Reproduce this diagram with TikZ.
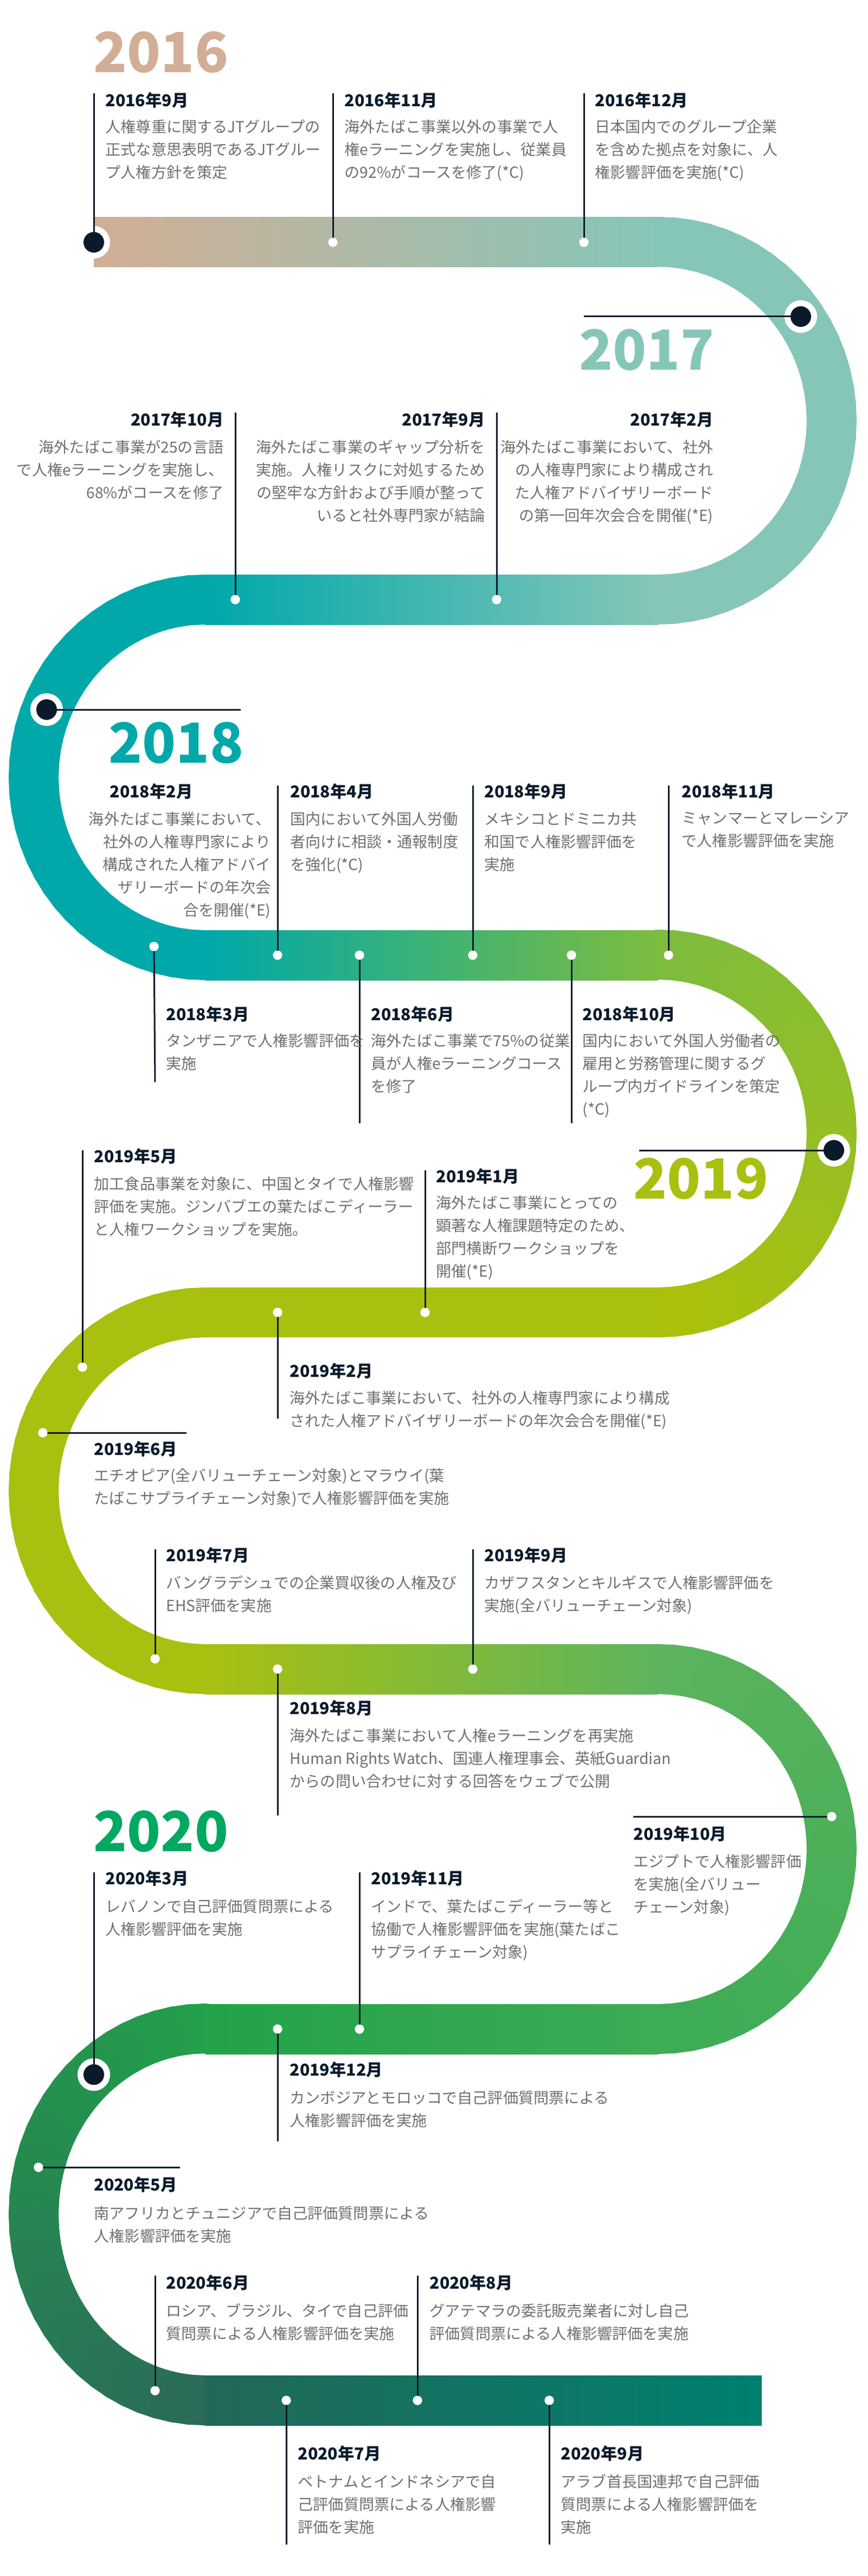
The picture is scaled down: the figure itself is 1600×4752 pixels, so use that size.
\documentclass[tikz,border=0pt]{standalone}
\usepackage{fontspec}
\setmainfont{Noto Sans CJK JP}
\definecolor{navy}{HTML}{0B1A2B}
\definecolor{bodygray}{HTML}{707070}
\definecolor{y16}{HTML}{D2AE96}
\definecolor{y17}{HTML}{86C6B8}
\definecolor{y18}{HTML}{00A8AA}
\definecolor{y19}{HTML}{A9C010}
\definecolor{y20}{HTML}{00A862}
\definecolor{g3a}{HTML}{7CBC40}
\definecolor{g3b}{HTML}{ACC10A}
\definecolor{g5a}{HTML}{5DB45E}
\definecolor{g5b}{HTML}{3DAC55}
\definecolor{g6a}{HTML}{22A24A}
\definecolor{g6b}{HTML}{2A6B58}
\definecolor{g7a}{HTML}{226858}
\definecolor{g7b}{HTML}{0B7868}
\definecolor{g7c}{HTML}{00806F}
\newcommand\turnarc[8]{%
  \foreach \i in {0,...,35}{%
    \pgfmathsetmacro\ta{#5+(#6-#5)*\i/36}%
    \pgfmathsetmacro\tb{#5+(#6-#5)*(\i+1)/36}%
    \pgfmathsetmacro\pc{100*(\i+0.5)/36}%
    \colorlet{segc}{#8!\pc!#7}%
    \draw[segc,line width=0.92cm,line cap=round] ({#1+#3*cos(\ta)},{#2-#4*sin(\ta)}) -- ({#1+#3*cos(\tb)},{#2-#4*sin(\tb)});
  }}
\newcommand\datefont{\fontsize{8.6}{10}\selectfont\bfseries}
\newcommand\bodyfont{\fontsize{8}{11.95}\selectfont}
\newcommand\yearfont{\fontsize{29}{30}\selectfont\bfseries}
\begin{document}
\begin{tikzpicture}[x=0.01cm,y=-0.01cm,
  datel/.style={font=\datefont,text=navy,inner sep=0,anchor=west},
  dater/.style={font=\datefont,text=navy,inner sep=0,anchor=east},
  bodyl/.style={font=\bodyfont,text=bodygray,inner sep=0,align=left,anchor=north west},
  bodyr/.style={font=\bodyfont,text=bodygray,inner sep=0,align=right,anchor=north east},
  year/.style={font=\yearfont,inner sep=0,anchor=south west},
  conn/.style={navy,line width=0.03cm},
  sdot/.style={circle,fill=white,minimum size=0.17cm,inner sep=0},
  bigring/.style={circle,fill=white,minimum size=0.6cm,inner sep=0},
  bigdot/.style={circle,fill=navy,minimum size=0.38cm,inner sep=0}]
\useasboundingbox (0,0) rectangle (1600,4752);
\fill[white] (0,0) rectangle (1600,4752);
% ---- track ----
\turnarc{1214}{776}{320}{330}{90}{-90}{y17}{y17}
\turnarc{378}{1434}{316}{328}{90}{270}{y18}{y18}
\turnarc{1214}{2091}{320}{330}{90}{-90}{g3a}{g3b}
\turnarc{378}{2750}{316}{329}{90}{270}{y19}{y19}
\turnarc{1214}{3411}{320}{332}{90}{-90}{g5a}{g5b}
\turnarc{378}{4085}{316}{343}{90}{270}{g6a}{g6b}
\shade[left color=y16,middle color=y16!55!y17,right color=y17] (173,401) rectangle (1214,493);
\shade[left color=y18,middle color=y18!90!y17,right color=y17] (378,1060) rectangle (1214,1152);
\shade[left color=y18,middle color=y18!50!y20,right color=g3a] (378,1716) rectangle (1214,1808);
\fill[y19] (378,2375) rectangle (1214,2467);
\shade[left color=y19,middle color=y19!50!g5a,right color=g5a] (378,3033) rectangle (1214,3125);
\shade[left color=g6a,right color=g5b] (378,3697) rectangle (1214,3789);
\shade[left color=g7a,middle color=g7b,right color=g7c] (378,4382) rectangle (1405,4474);
% ---- years ----
\node[year,text=y16] (yr16) at (172,136) {2016};
\node[year,text=y17] (yr17) at (1068,685) {2017};
\node[year,text=y18] (yr18) at (200,1410) {2018};
\node[year,text=y19] (yr19) at (1168,2214) {2019};
\node[year,text=y20] (yr20) at (172,3418) {2020};
% ---- connectors ----
\coordinate (c1) at (173,172); \coordinate (c2) at (614,172); \coordinate (c3) at (1077,172);
\coordinate (c4) at (1077,584); \coordinate (c5) at (434,761); \coordinate (c6) at (916,761);
\coordinate (c7) at (444,1309); \coordinate (c8) at (512,1449); \coordinate (c9) at (872,1449);
\coordinate (c10) at (1233,1449); \coordinate (c11) at (286,1996); \coordinate (c12) at (663,2072);
\coordinate (c13) at (1054,2072); \coordinate (c14) at (1179,2122); \coordinate (c15) at (152,2122);
\coordinate (c16) at (784,2159); \coordinate (c17) at (512,2617); \coordinate (c18) at (344,2643);
\coordinate (c19) at (286,2858); \coordinate (c20) at (872,2858); \coordinate (c21) at (512,3349);
\coordinate (c22) at (1168,3351); \coordinate (c23) at (173,3454); \coordinate (c24) at (663,3454);
\coordinate (c25) at (512,3950); \coordinate (c26) at (332,3998); \coordinate (c27) at (286,4198);
\coordinate (c28) at (770,4198); \coordinate (c29) at (528,4694); \coordinate (c30) at (1013,4694);
\node[bigring] (r1) at (173,447) {}; \node[bigring] (r4) at (1477,584) {};
\node[bigring] (r7) at (86,1309) {}; \node[bigring] (r14) at (1538,2122) {};
\node[bigring] (r23) at (173,3827) {};
\node[sdot] (d2) at (614,447) {}; \node[sdot] (d3) at (1077,447) {};
\node[sdot] (d5) at (434,1106) {}; \node[sdot] (d6) at (916,1106) {};
\node[sdot] (d8) at (512,1762) {}; \node[sdot] (d9) at (872,1762) {};
\node[sdot] (d10) at (1233,1762) {}; \node[sdot] (d11) at (284,1746) {};
\node[sdot] (d12) at (663,1762) {}; \node[sdot] (d13) at (1054,1762) {};
\node[sdot] (d15) at (152,2522) {}; \node[sdot] (d16) at (784,2421) {};
\node[sdot] (d17) at (512,2421) {}; \node[sdot] (d18) at (79,2643) {};
\node[sdot] (d19) at (286,3060) {}; \node[sdot] (d20) at (872,3079) {};
\node[sdot] (d21) at (512,3079) {}; \node[sdot] (d22) at (1534,3351) {};
\node[sdot] (d24) at (663,3743) {}; \node[sdot] (d25) at (512,3743) {};
\node[sdot] (d26) at (71,3998) {}; \node[sdot] (d27) at (286,4410) {};
\node[sdot] (d28) at (770,4428) {}; \node[sdot] (d29) at (528,4428) {};
\node[sdot] (d30) at (1013,4428) {};
\foreach \a/\b in {r1/c1,d2/c2,d3/c3,r4/c4,d5/c5,d6/c6,r7/c7,d8/c8,d9/c9,d10/c10,d11/c11,d12/c12,d13/c13,r14/c14,d15/c15,d16/c16,d17/c17,d18/c18,d19/c19,d20/c20,d21/c21,d22/c22,r23/c23,d24/c24,d25/c25,d26/c26,d27/c27,d28/c28,d29/c29,d30/c30}
  \draw[conn] (\a.center) -- (\b);
\foreach \r in {r1,r4,r7,r14,r23} \node[bigdot] at (\r) {};
\foreach \d in {d2,d3,d5,d6,d8,d9,d10,d11,d12,d13,d15,d16,d17,d18,d19,d20,d21,d22,d24,d25,d26,d27,d28,d29,d30} \node[sdot] at (\d) {};
% ---- texts ----
\node[datel] (t1) at (194,185) {2016年9月};
\node[bodyl] (b1) at (194,220) {人権尊重に関するJTグループの\\正式な意思表明であるJTグルー\\プ人権方針を策定};
\node[datel] (t2) at (635,185) {2016年11月};
\node[bodyl] (b2) at (635,220) {海外たばこ事業以外の事業で人\\権eラーニングを実施し、従業員\\の92\%がコースを修了(*C)};
\node[datel] (t3) at (1097,185) {2016年12月};
\node[bodyl] (b3) at (1097,220) {日本国内でのグループ企業\\を含めた拠点を対象に、人\\権影響評価を実施(*C)};
\node[dater] (t5) at (413,774) {2017年10月};
\node[bodyr] (b5) at (413,811) {海外たばこ事業が25の言語\\で人権eラーニングを実施し、\\68\%がコースを修了};
\node[dater] (t6) at (895,774) {2017年9月};
\node[bodyr] (b6) at (895,811) {海外たばこ事業のギャップ分析を\\実施。人権リスクに対処するため\\の堅牢な方針および手順が整って\\いると社外専門家が結論};
\node[dater] (t4) at (1316,774) {2017年2月};
\node[bodyr] (b4) at (1316,811) {海外たばこ事業において、社外\\の人権専門家により構成され\\た人権アドバイザリーボード\\の第一回年次会合を開催(*E)};
\node[datel] (t7) at (202,1460) {2018年2月};
\node[bodyr] (b7) at (500,1497) {海外たばこ事業において、\\社外の人権専門家により\\構成された人権アドバイ\\ザリーボードの年次会\\合を開催(*E)};
\node[datel] (t8) at (535,1460) {2018年4月};
\node[bodyl] (b8) at (535,1497) {国内において外国人労働\\者向けに相談・通報制度\\を強化(*C)};
\node[datel] (t9) at (893,1460) {2018年9月};
\node[bodyl] (b9) at (893,1497) {メキシコとドミニカ共\\和国で人権影響評価を\\実施};
\node[datel] (t10) at (1257,1460) {2018年11月};
\node[bodyl] (b10) at (1257,1497) {ミャンマーとマレーシア\\で人権影響評価を実施};
\node[datel] (t11) at (306,1871) {2018年3月};
\node[bodyl] (b11) at (306,1906) {タンザニアで人権影響評価を\\実施};
\node[datel] (t12) at (684,1871) {2018年6月};
\node[bodyl] (b12) at (684,1906) {海外たばこ事業で75\%の従業\\員が人権eラーニングコース\\を修了};
\node[datel] (t13) at (1074,1871) {2018年10月};
\node[bodyl] (b13) at (1074,1906) {国内において外国人労働者の\\雇用と労務管理に関するグ\\ループ内ガイドラインを策定\\(*C)};
\node[datel] (t15) at (173,2133) {2019年5月};
\node[bodyl] (b15) at (173,2170) {加工食品事業を対象に、中国とタイで人権影響\\評価を実施。ジンバブエの葉たばこディーラー\\と人権ワークショップを実施。};
\node[datel] (t16) at (804,2170) {2019年1月};
\node[bodyl] (b16) at (804,2205) {海外たばこ事業にとっての\\顕著な人権課題特定のため、\\部門横断ワークショップを\\開催(*E)};
\node[datel] (t17) at (534,2529) {2019年2月};
\node[bodyl] (b17) at (534,2565) {海外たばこ事業において、社外の人権専門家により構成\\された人権アドバイザリーボードの年次会合を開催(*E)};
\node[datel] (t18) at (173,2673) {2019年6月};
\node[bodyl] (b18) at (173,2708) {エチオピア(全バリューチェーン対象)とマラウイ(葉\\たばこサプライチェーン対象)で人権影響評価を実施};
\node[datel] (t19) at (306,2869) {2019年7月};
\node[bodyl] (b19) at (306,2906) {バングラデシュでの企業買収後の人権及び\\EHS評価を実施};
\node[datel] (t20) at (893,2869) {2019年9月};
\node[bodyl] (b20) at (893,2906) {カザフスタンとキルギスで人権影響評価を\\実施(全バリューチェーン対象)};
\node[datel] (t21) at (534,3151) {2019年8月};
\node[bodyl] (b21) at (534,3188) {海外たばこ事業において人権eラーニングを再実施\\Human Rights Watch、国連人権理事会、英紙Guardian\\からの問い合わせに対する回答をウェブで公開};
\node[datel] (t22) at (1168,3383) {2019年10月};
\node[bodyl] (b22) at (1168,3420) {エジプトで人権影響評価\\を実施(全バリュー\\チェーン対象)};
\node[datel] (t23) at (194,3465) {2020年3月};
\node[bodyl] (b23) at (194,3503) {レバノンで自己評価質問票による\\人権影響評価を実施};
\node[datel] (t24) at (684,3465) {2019年11月};
\node[bodyl] (b24) at (684,3503) {インドで、葉たばこディーラー等と\\協働で人権影響評価を実施(葉たばこ\\サプライチェーン対象)};
\node[datel] (t25) at (534,3818) {2019年12月};
\node[bodyl] (b25) at (534,3856) {カンボジアとモロッコで自己評価質問票による\\人権影響評価を実施};
\node[datel] (t26) at (173,4030) {2020年5月};
\node[bodyl] (b26) at (173,4069) {南アフリカとチュニジアで自己評価質問票による\\人権影響評価を実施};
\node[datel] (t27) at (306,4211) {2020年6月};
\node[bodyl] (b27) at (306,4249) {ロシア、ブラジル、タイで自己評価\\質問票による人権影響評価を実施};
\node[datel] (t28) at (792,4211) {2020年8月};
\node[bodyl] (b28) at (792,4249) {グアテマラの委託販売業者に対し自己\\評価質問票による人権影響評価を実施};
\node[datel] (t29) at (549,4526) {2020年7月};
\node[bodyl] (b29) at (549,4564) {ベトナムとインドネシアで自\\己評価質問票による人権影響\\評価を実施};
\node[datel] (t30) at (1034,4526) {2020年9月};
\node[bodyl] (b30) at (1034,4564) {アラブ首長国連邦で自己評価\\質問票による人権影響評価を\\実施};
\end{tikzpicture}
\end{document}
